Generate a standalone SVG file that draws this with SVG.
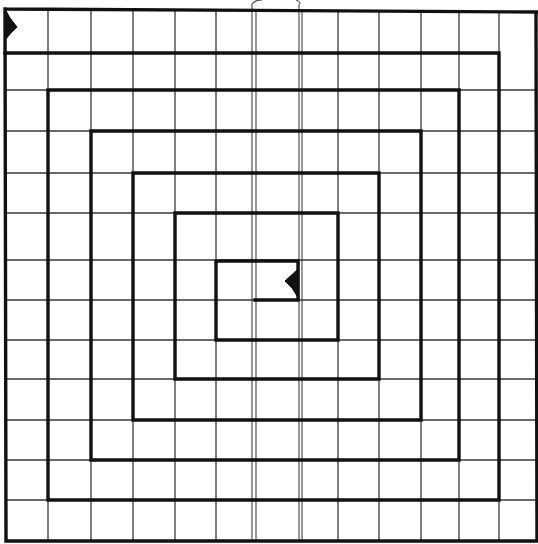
<svg xmlns="http://www.w3.org/2000/svg" width="538" height="544" viewBox="0 0 538 544">
<style>
.grid{stroke:#3a3a3a;stroke-width:1.3;fill:none}
.thin{stroke:#444;stroke-width:1.1;fill:none}
.thick{stroke:#111;stroke-width:3.4;fill:none;stroke-linejoin:miter;stroke-linecap:square}
.head{fill:#111;stroke:#111;stroke-width:1}
</style>
<rect width="538" height="544" fill="#fff"/>
<g id="grid">
<path class="grid" d="M48,10V541 M91,10V541 M133,10V541 M175,10V541 M216,10V541 M338,11V541 M379,11V541 M421,11V541 M459,11V541 M499,12V541"/>
<path class="thin" d="M252,4V541 M256,10V541 M299,4V541 M302,10V541 M252,4Q255,0 262,0 M300,4Q300,1 296,0"/>
<path class="grid" d="M5,90H536 M5,131H536 M5,173H536 M5,213H536 M5,260H536 M5,300H536 M5,340H536 M5,379H536 M5,420H536 M5,460H536 M5,500H536"/>
</g>
<g id="border">
<path class="thick" d="M5,9L537,12 M5,9L6,541L537,541L536,12"/>
</g>
<g id="connectors">
<path id="spiral" class="thick" d="M5,53H499V500H48V90H459V460H91V131H421V420H133V173H379V379H175V213H338V340H216V261H298V300H255"/>
</g>
<g id="start-arrow">
<polygon class="head" points="5,9 10,18 17,27 11,33 5,40"/>
</g>
<g id="end-arrow">
<polygon class="head" points="297,270 285,281 292,288 297,296"/>
</g>
</svg>
